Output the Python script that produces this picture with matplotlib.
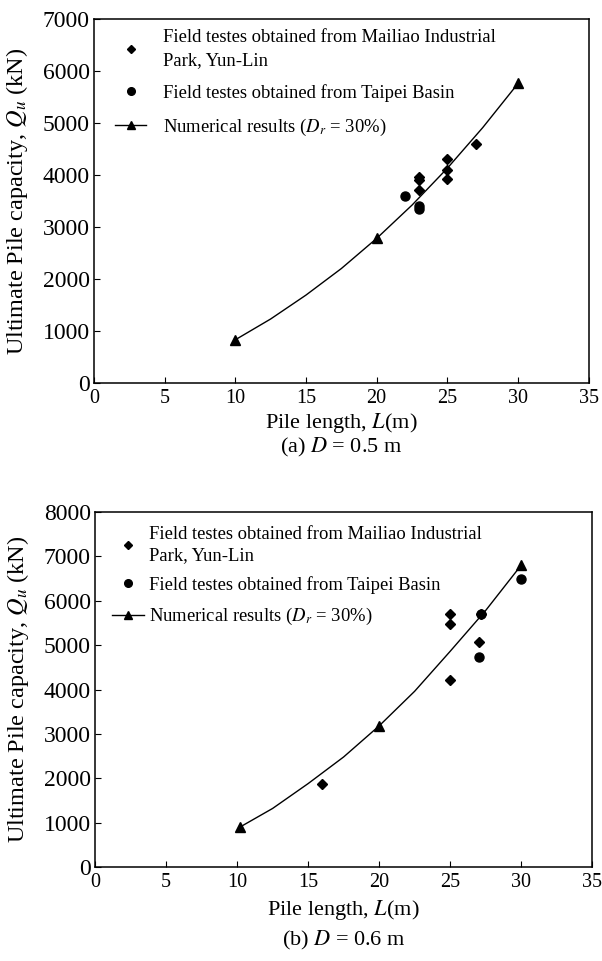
import matplotlib
matplotlib.use("Agg")
import matplotlib.pyplot as plt
from matplotlib.lines import Line2D

plt.rcParams["font.family"] = ["Liberation Serif", "DejaVu Serif"]
plt.rcParams["mathtext.fontset"] = "stix"

# (a) D = 0.5 m
a_mailiao_L = [23, 23, 23, 25, 25, 25, 27]
a_mailiao_Q = [3960, 3900, 3710, 4310, 4100, 3920, 4590]
a_taipei_L = [22, 23, 23]
a_taipei_Q = [3590, 3400, 3350]
a_num_L = [10, 12.5, 15, 17.5, 20, 22.5, 25, 27.5, 30]
a_num_Q = [830, 1230, 1690, 2200, 2780, 3420, 4130, 4910, 5760]

# (b) D = 0.6 m
b_mailiao_L = [16, 25, 25, 25, 27, 27.2]
b_mailiao_Q = [1880, 5700, 5480, 4210, 5070, 5700]
b_taipei_L = [27, 27.2, 30]
b_taipei_Q = [4730, 5700, 6490]
b_num_L = [10.2, 12.5, 15, 17.5, 20, 22.5, 25, 27.5, 30]
b_num_Q = [900, 1320, 1880, 2480, 3180, 3960, 4860, 5780, 6800]

x_ticks = [0, 5, 10, 15, 20, 25, 30, 35]

legend_labels = [
    "Field testes obtained from Mailiao Industrial\nPark, Yun-Lin",
    "Field testes obtained from Taipei Basin",
    "Numerical results ($D_r$ = 30%)",
]


def draw_panel(ax, mail_L, mail_Q, tai_L, tai_Q, num_L, num_Q, ymax, caption,
               xlab_y, cap_y, leg_anchor, labelspacing, textpad, linespacing):
    ax.plot(num_L, num_Q, color="black", lw=1.0, marker="^", ms=6.5,
            markevery=[0, 4, 8])
    ax.plot(mail_L, mail_Q, ls="none", marker="D", ms=5, color="black")
    ax.plot(tai_L, tai_Q, ls="none", marker="o", ms=6.5, color="black")

    ax.set_xlim(0, 35)
    ax.set_ylim(0, ymax)
    ax.set_xticks(x_ticks)
    ax.set_yticks(range(0, ymax + 1, 1000))
    ax.tick_params(direction="in", length=4, top=False, right=False)
    ax.tick_params(axis="x", labelsize=14.5, pad=4)
    ax.tick_params(axis="y", labelsize=17, pad=3)
    for s in ax.spines.values():
        s.set_linewidth(1.1)

    ax.set_xlabel("Pile length, $L$(m)", fontsize=16)
    ax.xaxis.set_label_coords(0.5, xlab_y)
    ax.set_ylabel("Ultimate Pile capacity, $Q_u$ (kN)", fontsize=17.5)
    ax.yaxis.set_label_coords(-0.13, 0.5)
    ax.text(0.5, cap_y, caption, transform=ax.transAxes, ha="center",
            va="center", fontsize=16)

    handles = [
        Line2D([], [], ls="none", marker="D", ms=4.5, color="black"),
        Line2D([], [], ls="none", marker="o", ms=5.5, color="black"),
        Line2D([], [], color="black", lw=1.0, marker="^", ms=6),
    ]
    leg = ax.legend(handles, legend_labels, loc="upper left",
                    bbox_to_anchor=leg_anchor, frameon=False, fontsize=13.4,
                    handlelength=1.7, handletextpad=textpad,
                    labelspacing=labelspacing, borderaxespad=0, borderpad=0)
    for t in leg.get_texts():
        t.set_linespacing(linespacing)


fig = plt.figure(figsize=(6.02, 9.61), dpi=100)
ax1 = fig.add_axes([0.156, 0.6015, 0.822, 0.3788])
ax2 = fig.add_axes([0.158, 0.0978, 0.8256, 0.3694])

draw_panel(ax1, a_mailiao_L, a_mailiao_Q, a_taipei_L, a_taipei_Q,
           a_num_L, a_num_Q, 7000, "(a) $D$ = 0.5 m",
           -0.077, -0.176, (0.042, 0.972), 0.8, 0.9, 1.44)
draw_panel(ax2, b_mailiao_L, b_mailiao_Q, b_taipei_L, b_taipei_Q,
           b_num_L, b_num_Q, 8000, "(b) $D$ = 0.6 m",
           -0.087, -0.206, (0.034, 0.961), 0.65, 0.3, 1.32)

fig.savefig("out.png", dpi=100)
